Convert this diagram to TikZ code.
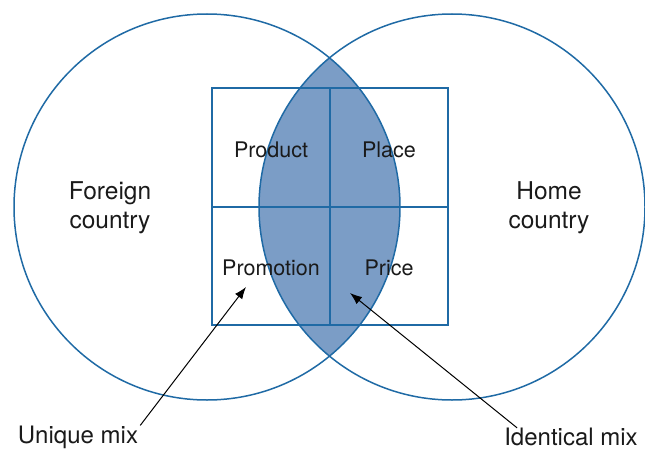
\documentclass[tikz,border=0pt]{standalone}
\usepackage{fontspec}
\setmainfont{TeX Gyre Heros}
\usetikzlibrary{arrows.meta}
\definecolor{ringblue}{HTML}{1F6AA5}
\definecolor{lensblue}{HTML}{7B9DC6}
\definecolor{inkgray}{HTML}{1A1A1A}
\tikzset{
  ring/.style={draw=ringblue, line width=1.5pt},
  cell/.style={text=inkgray, font=\fontsize{21.5}{26}\selectfont},
  country/.style={text=inkgray, align=center, font=\fontsize{24.5}{29}\selectfont},
  mixlabel/.style={text=inkgray, inner sep=0pt, font=\fontsize{24}{29}\selectfont},
  pointer/.style={draw=black, line width=1pt, -{Latex[length=12pt,width=9pt]}}
}
\begin{document}
\begin{tikzpicture}[x=1pt, y=-1pt]
      \useasboundingbox (0,0) rectangle (645,452);
      \coordinate (foreign) at (207,207);
      \coordinate (home) at (452,207);
      % shared part of the two mixes
      \begin{scope}
        \clip (foreign) circle (193);
        \fill[lensblue] (home) circle (193);
      \end{scope}
      \draw[ring] (foreign) circle (193);
      \draw[ring] (home) circle (193);
      \begin{scope}[ring]
        \draw (212,88) rectangle (448,325);
        \draw (330,88) -- (330,325);
        \draw (212,207) -- (448,207);
      \end{scope}
      \draw
        (271,150) node[cell] (product){Product}
        (389,150) node[cell] (place){Place}
        (271,268) node[cell] (promotion){Promotion}
        (389,268) node[cell] (price){Price};
      \draw
        (110,208) node[country] (foreignlabel){Foreign\\country}
        (549,208) node[country] (homelabel){Home\\country};
      \draw
        (78,437) node[mixlabel] (unique){Unique mix}
        (571,437) node[mixlabel] (identical){Identical mix};
      \coordinate (uniquetip) at (246,287);
      \coordinate (identicaltip) at (350,293);
      \draw[pointer] ([xshift=2pt]unique.north east) to (uniquetip);
      \draw[pointer] ([xshift=13pt]identical.north west) to (identicaltip);
    \end{tikzpicture}
\end{document}
